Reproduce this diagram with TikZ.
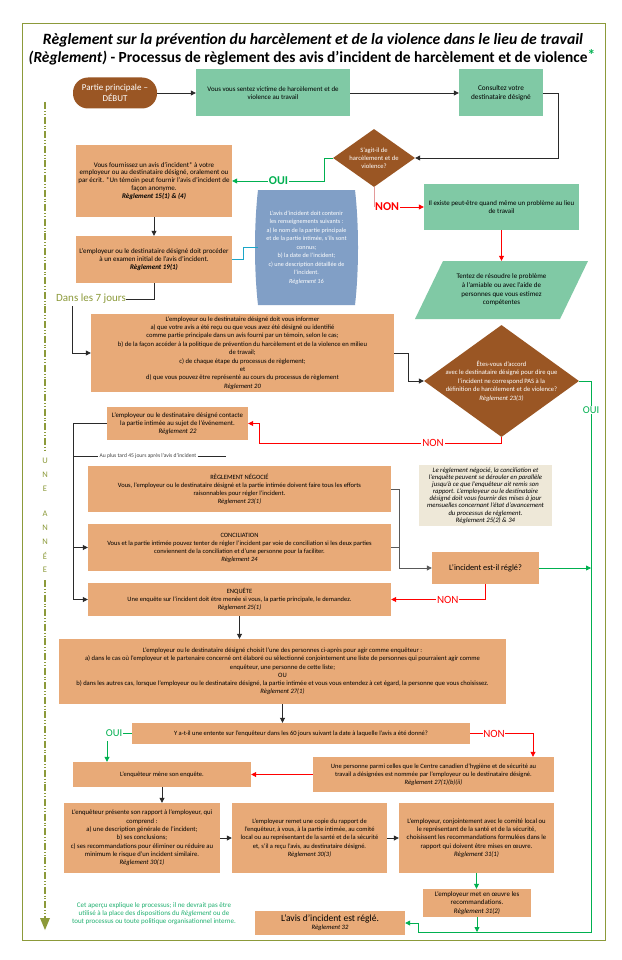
\documentclass[tikz,border=0pt]{standalone}
\usepackage{fontspec}
\setmainfont{Carlito}
\usetikzlibrary{arrows.meta,shapes.geometric,calc}
\definecolor{orng}{HTML}{E8AA78}
\definecolor{mint}{HTML}{80C9A5}
\definecolor{brwn}{HTML}{9A5624}
\definecolor{bluebx}{HTML}{819FC6}
\definecolor{cream}{HTML}{EEE8D8}
\definecolor{grn}{HTML}{00B050}
\definecolor{redc}{HTML}{FF0000}
\definecolor{olive}{HTML}{8C9A3A}
\definecolor{pinkc}{HTML}{E39A9A}
\definecolor{cyanc}{HTML}{1BA6C8}
\definecolor{linec}{HTML}{2A2A2A}
\definecolor{notegrn}{HTML}{20B070}
\begin{document}
\begin{tikzpicture}[x=1pt,y=-1pt,
  every node/.style={inner sep=1pt, align=center},
  body/.style={font=\fontsize{6.5}{8}\selectfont},
  obox/.style={body, fill=orng, text=black},
  gbox/.style={body, fill=mint, text=black},
  arr/.style={draw=linec, line width=0.8pt, -{Triangle[length=5pt,width=5pt]}},
  ln/.style={draw=linec, line width=0.8pt},
  garr/.style={draw=grn, line width=0.8pt, -{Triangle[length=5pt,width=5pt]}},
  gln/.style={draw=grn, line width=0.8pt},
  rarr/.style={draw=redc, line width=0.8pt, -{Triangle[length=5pt,width=5pt]}},
  rln/.style={draw=redc, line width=0.8pt},
  tl/.style={draw=olive, line width=1.2pt, dash pattern=on 7pt off 2pt on 0.8pt off 2pt on 0.8pt off 2pt},
  letter/.style={text=olive, font=\fontsize{8.5}{9}\selectfont},
  lbl/.style={fill=white, inner sep=0.8pt, font=\fontsize{11}{12}\selectfont},
]
\useasboundingbox (0,0) rectangle (621,960);
\fill[white] (0,0) rectangle (621,960);
\draw[olive, line width=1pt] (22,24) rectangle (605,940);

% title
\node[font=\fontsize{15.7}{17}\selectfont\bfseries\itshape, inner sep=0pt] (t1) at (313,40) {Règlement sur la prévention du harcèlement et de la violence dans le lieu de travail};
\node[font=\fontsize{15.4}{17}\selectfont\bfseries, inner sep=0pt] (t2) at (312,57) {\itshape (Règlement)\upshape{} - Processus de règlement des avis d’incident de harcèlement et de violence\textcolor{grn}{\raisebox{2pt}{*}}};

% timeline
\draw[tl] (45,102) -- (45,452);
\node[letter] (l1) at (45,461) {U};
\node[letter] (l2) at (45,475) {N};
\node[letter] (l3) at (45,489) {E};
\node[letter] (l4) at (45,514) {A};
\node[letter] (l5) at (45,528) {N};
\node[letter] (l6) at (45,542) {N};
\node[letter] (l7) at (45,556) {É};
\node[letter] (l8) at (45,570) {E};
\draw[tl] (45,580) -- (45,918);
\fill[olive] (40,918) -- (50,918) -- (45,930) -- cycle;

% top row
\node[fill=brwn, text=white, rounded corners=15pt, minimum width=84pt, minimum height=31pt, font=\fontsize{9}{10.5}\selectfont] (pill) at (115,93) {Partie principale –\\DÉBUT};
\node[gbox, font=\fontsize{6.9}{8.4}\selectfont, minimum width=154pt, minimum height=47pt] (g1) at (273,93) {Vous vous sentez victime de harcèlement et de\\violence au travail};
\node[gbox, font=\fontsize{7.3}{8.6}\selectfont, minimum width=84pt, minimum height=47pt] (g2) at (501,93) {Consultez votre\\destinataire désigné};

% diamond 1
\node[diamond, fill=brwn, minimum width=82pt, minimum height=58pt, inner sep=0pt] (d1) at (374,158) {};
\node[text=white, font=\fontsize{6.6}{8.3}\selectfont] (d1t) at (d1) {S’agit-il de\\harcèlement et de\\violence?};

% left boxes
\node[obox, font=\fontsize{7}{7.9}\selectfont, minimum width=156pt, minimum height=72pt] (f1) at (154,181) {Vous fournissez un avis d’incident* à votre\\employeur ou au destinataire désigné, oralement ou\\par écrit.  *Un témoin peut fournir l’avis d’incident de\\façon anonyme.\\\textbf{\textit{Règlement 15(1) \& (4)}}};
\node[obox, font=\fontsize{7}{7.9}\selectfont, minimum width=156pt, minimum height=47pt] (f2) at (154,259.5) {L’employeur ou le destinataire désigné doit procéder\\à un examen initial de l’avis d’incident.\\\textbf{\textit{Règlement 19(1)}}};

% blue box
\fill[bluebx] (258,190) -- (355,190) .. controls (359,225) and (359,270) .. (355,305) -- (258,305) .. controls (254,270) and (254,225) .. (258,190) -- cycle;
\node[text=white, font=\fontsize{6.2}{8.5}\selectfont, minimum width=97pt, minimum height=115pt] (blue) at (306.5,247.5) {L’avis d’incident doit contenir\\les renseignements suivants :\\a) le nom de la partie principale\\et de la partie intimée, s’ils sont\\connus;\\b) la date de l’incident;\\c) une description détaillée de\\l’incident.\\\textit{Règlement 16}};

% right green
\node[gbox, font=\fontsize{6.9}{8.4}\selectfont, minimum width=155pt, minimum height=46pt] (g3) at (501.5,207) {Il existe peut-être quand même un problème au lieu\\de travail};
\fill[mint] (443,261) -- (588,261) -- (560,319) -- (415,319) -- cycle;
\node[font=\fontsize{7}{8.7}\selectfont, minimum width=140pt, minimum height=58pt] (para) at (501.5,290) {Tentez de résoudre le problème\\à l’amiable ou avec l’aide de\\personnes que vous estimez\\compétentes};

% Dans les 7 jours
\node[text=olive, font=\fontsize{11}{12}\selectfont, inner sep=0pt] (d7) at (91,299) {Dans les 7 jours};
\coordinate (d7b) at (72,306);

\node[obox, font=\fontsize{6.6}{8.4}\selectfont, minimum width=303pt, minimum height=78pt] (info) at (242.5,353) {L’employeur ou le destinataire désigné doit vous informer\\a) que votre avis a été reçu ou que vous avez été désigné ou identifié\\comme partie principale dans un avis fourni par un témoin, selon le cas;\\b) de la façon accéder à la politique de prévention du harcèlement et de la violence en milieu\\de travail;\\c) de chaque étape du processus de règlement;\\et\\d) que vous pouvez être représenté au cours du processus de règlement\\\textit{Règlement 20}};

\node[diamond, fill=brwn, minimum width=155pt, minimum height=112pt, inner sep=0pt] (d2) at (501.5,381) {};
\node[text=white, font=\fontsize{6.6}{8.5}\selectfont] (d2t) at (d2) {Êtes-vous d’accord\\avec le destinataire désigné pour dire que\\l’incident ne correspond PAS à la\\définition de harcèlement et de violence?\\\textit{Règlement 23(3)}};

\node[obox, font=\fontsize{6.8}{8.2}\selectfont, minimum width=141pt, minimum height=33pt] (cont) at (177.5,423.5) {L’employeur ou le destinataire désigné contacte\\la partie intimée au sujet de l’événement.\\\textit{Règlement 22}};

\node[font=\fontsize{5.6}{6}\selectfont, text=black!75, inner sep=1pt] (au) at (148,456) {Au plus tard 45 jours après l’avis d’incident};
\coordinate (auend) at (226,456);
\coordinate (lxc) at (73,0);

\node[obox, minimum width=303pt, minimum height=46pt] (neg) at (239.5,489) {RÈGLEMENT NÉGOCIÉ\\Vous, l’employeur ou le destinataire désigné et la partie intimée doivent faire tous les efforts\\raisonnables pour régler l’incident.\\\textit{Règlement 23(1)}};
\node[fill=cream, font=\fontsize{6.7}{7.1}\selectfont\itshape, minimum width=133pt, minimum height=61pt] (note) at (485.5,495.5) {Le règlement négocié, la conciliation et\\l’enquête peuvent se dérouler en parallèle\\jusqu’à ce que l’enquêteur ait remis son\\rapport. L’employeur ou le destinataire\\désigné doit vous fournir des mises à jour\\mensuelles concernant l’état d’avancement\\du processus de règlement.\\Règlement 25(2) \& 34};
\node[obox, minimum width=303pt, minimum height=47pt] (conc) at (239.5,547.5) {CONCILIATION\\Vous et la partie intimée pouvez tenter de régler l’incident par voie de conciliation si les deux parties\\conviennent de la conciliation et d’une personne pour la faciliter.\\\textit{Règlement 24}};
\node[fill=orng, font=\fontsize{8.3}{10}\selectfont, minimum width=107pt, minimum height=32pt] (inc) at (485.5,568) {L’incident est-il réglé?};
\node[obox, minimum width=303pt, minimum height=33pt] (enq) at (239.5,599.5) {ENQUÊTE\\Une enquête sur l’incident doit être menée si vous, la partie principale, le demandez.\\\textit{Règlement 25(1)}};

\node[obox, font=\fontsize{6.6}{8.2}\selectfont, minimum width=447pt, minimum height=65pt] (enqb) at (282.5,671.5) {L’employeur ou le destinataire désigné choisit l’une des personnes ci-après pour agir comme enquêteur :\\a) dans le cas où l’employeur et le partenaire concerné ont élaboré ou sélectionné conjointement une liste de personnes qui pourraient agir comme\\enquêteur, une personne de cette liste;\\OU\\b) dans les autres cas, lorsque l’employeur ou le destinataire désigné, la partie intimée et vous vous entendez à cet égard, la personne que vous choisissez.\\\textit{Règlement 27(1)}};

\node[obox, minimum width=338pt, minimum height=21pt] (ya) at (301,733.5) {Y a-t-il une entente sur l’enquêteur dans les 60 jours suivant la date à laquelle l’avis a été donné?};
\node[text=grn, font=\fontsize{10.5}{11}\selectfont, inner sep=0.5pt] (oui3) at (114,733.5) {OUI};
\node[text=redc, font=\fontsize{11}{12}\selectfont, inner sep=0.5pt] (non3) at (494,733.5) {NON};
\coordinate (o3) at (107,741);
\coordinate (n3c) at (533,733.5);

\node[obox, minimum width=178pt, minimum height=25pt] (mene) at (162,774.5) {L’enquêteur mène son enquête.};
\node[obox, minimum width=241pt, minimum height=35pt] (pers) at (433.5,774.5) {Une personne parmi celles que le Centre canadien d’hygiène et de sécurité au\\travail a désignées est nommée par l’employeur ou le destinataire désigné.\\\textit{Règlement 27(1)(b)(ii)}};

\node[obox, font=\fontsize{6.7}{8.3}\selectfont, minimum width=156pt, minimum height=70pt] (A) at (142,838) {L’enquêteur présente son rapport à l’employeur, qui\\comprend :\\a) une description générale de l’incident;\\b) ses conclusions;\\c) ses recommandations pour éliminer ou réduire au\\minimum le risque d’un incident similaire.\\\textit{Règlement 30(1)}};
\node[obox, font=\fontsize{6.5}{8.3}\selectfont, minimum width=155pt, minimum height=70pt] (B) at (309.5,838) {L’employeur remet une copie du rapport de\\l’enquêteur, à vous, à la partie intimée, au comité\\local ou au représentant de la santé et de la sécurité\\et, s’il a reçu l’avis, au destinataire désigné.\\\textit{Règlement 30(3)}};
\node[obox, font=\fontsize{6.7}{8.3}\selectfont, minimum width=155pt, minimum height=70pt] (C) at (476.5,838) {L’employeur, conjointement avec le comité local ou\\le représentant de la santé et de la sécurité,\\choisissent les recommandations formulées dans le\\rapport qui doivent être mises en œuvre.\\\textit{Règlement 31(1)}};
\node[obox, font=\fontsize{6.9}{8.3}\selectfont, minimum width=108pt, minimum height=28pt] (D) at (477,903) {L’employeur met en œuvre les\\recommandations.\\\textit{Règlement 31(2)}};
\node[obox, font=\fontsize{6.6}{8}\selectfont, minimum width=150pt, minimum height=24pt] (E) at (330,923) {{\fontsize{9.5}{11}\selectfont L’avis d’incident est réglé.}\\\textit{Règlement 32}};
\node[text=notegrn, font=\fontsize{7}{8.1}\selectfont] (cet) at (154,914) {Cet aperçu explique le processus; il ne devrait pas être\\utilisé à la place des dispositions du \textit{Règlement} ou de\\tout processus ou toute politique organisationnel interne.};

\coordinate (gR) at (591,932);
\coordinate (gB) at (418,932);

% ---------- connectors
\draw[arr] (pill) -- (g1);
\draw[arr] (g1) -- (g2);
\draw[arr] (g2.east) -- ++(15,0) |- (d1.east);
\draw[garr] (d1.west) -- ++(-8,0) |- (f1.east) node[pos=0.75, lbl, text=grn, font=\fontsize{12}{13}\selectfont\bfseries] {OUI};
\draw[draw=pinkc, line width=0.8pt] (d1.south) -- (d1.south |- g3.west);
\node[text=redc, font=\fontsize{12}{13}\selectfont\bfseries, inner sep=0.5pt, anchor=west] (non1) at ($(d1.south |- g3.west)+(0.5,0)$) {NON};
\draw[rarr] (non1.east) -- (g3.west);
\draw[rarr] (g3.south) -- (para.north);
\draw[arr] (f1) -- (f2);
\draw[draw=cyanc, line width=0.8pt] (f2.east) -- ++(11,0) |- (blue.west);
\draw[ln] (f2.south) |- (d7.east);
\draw[arr] (d7b) |- (info.west);
\draw[arr] (info.east) -- ++(14,0) |- (d2.west);
\draw[garr] (d2.east) -- (d2.east -| gR) -- (gR) -- (gB) |- (E.east);
\node[lbl, text=grn, font=\fontsize{10.5}{11}\selectfont] (oui2) at (591,410) {OUI};
\draw[rarr] (d2.south) -- ++(0,6) -| ($(cont.east)+(11,0)$) -- (cont.east);
\node[lbl, text=redc] (non2) at (433,443) {NON};
\draw[arr] (cont.west) -- (cont.west -| lxc) -- (enq.west -| lxc) -- (enq.west);
\draw[arr] (conc.west -| lxc) -- (conc.west);
\draw[ln, line width=0.6pt] (au.west -| lxc) -- (au.west);
\draw[ln, line width=0.6pt] (au.east) -- (auend);
\draw[arr, draw=black!65] (neg.east) -- ++(8,0) |- (inc.west);
\draw[ln, draw=black!65] (conc.east) -- ++(8,0);
\draw[garr] (inc.east) -- (inc.east -| gR);
\draw[rarr] (inc.south) |- (enq.east) node[pos=0.7, lbl, text=redc] {NON};
\draw[arr] (enq.south) -- (enq.south |- enqb.north);
\draw[arr] (enqb.south) -- (enqb.south |- ya.north);
\draw[gln] (oui3.east) -- (ya.west);
\draw[garr] (o3) -- (o3 |- mene.north);
\draw[rln] (ya.east) -- (non3.west);
\draw[rarr] (non3.east) -- (n3c) -- (n3c |- pers.north);
\draw[rarr] (pers.west) -- (mene.east);
\draw[arr] (mene.south) -- (mene.south |- A.north);
\draw[arr] (A.east) -- (B.west);
\draw[arr] (B.east) -- (C.west);
\draw[garr] (C.south) -- (C.south |- D.north);
\draw[garr] (D.south) -- (D.south |- gR);
\end{tikzpicture}
\end{document}
